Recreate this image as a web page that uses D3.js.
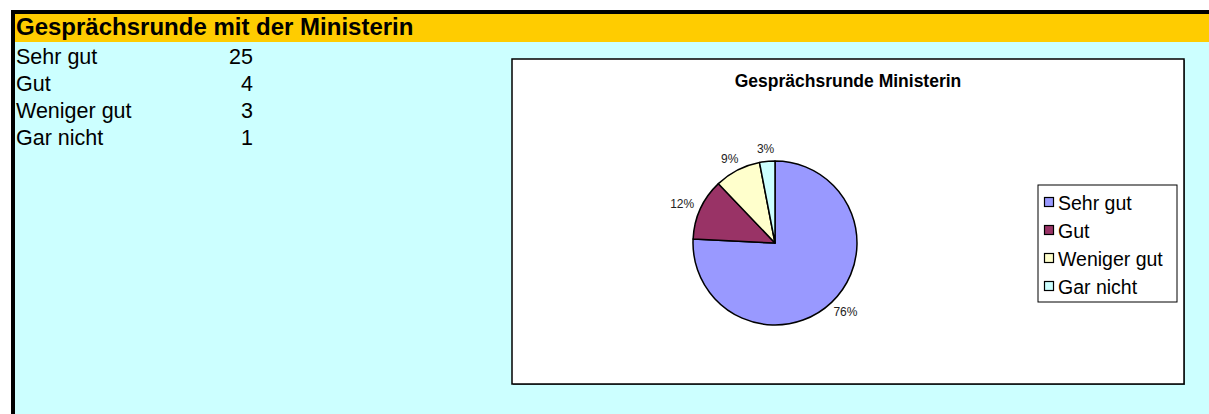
<!DOCTYPE html>
<html>
<head>
<meta charset="utf-8">
<script src="https://cdn.jsdelivr.net/npm/d3@7"></script>
<style>
  body { margin: 0; background: #fff; }
  svg { display: block; font-family: "Liberation Sans", Arial, sans-serif; }
</style>
</head>
<body>
<svg width="1209" height="414"></svg>
<script>
// data
const sheetTitle = "Gesprächsrunde mit der Ministerin";
const chartTitle = "Gesprächsrunde Ministerin";
const categories = ["Sehr gut", "Gut", "Weniger gut", "Gar nicht"];
const counts = [25, 4, 3, 1];
const colors = ["#9999FF", "#993366", "#FFFFCC", "#CCFFFF"];

let svg = d3.select("svg");
let width = parseInt(svg.attr("width"));
let height = parseInt(svg.attr("height"));

// thick black sheet border on left and top
svg.append("rect").attr("x", 11).attr("y", 10)
    .attr("width", width - 11).attr("height", height - 10).attr("fill", "#000");

// cyan sheet background
svg.append("rect").attr("x", 15).attr("y", 14)
    .attr("width", width - 15).attr("height", height - 14).attr("fill", "#CCFFFF");

// yellow header row
svg.append("rect").attr("x", 15).attr("y", 14)
    .attr("width", width - 15).attr("height", 28).attr("fill", "#FFCC00");
svg.append("text").attr("x", 16).attr("y", 35)
    .attr("font-size", 24).attr("font-weight", "bold")
    .text(sheetTitle);

// table rows under the header
let rowY = d3.scaleBand().domain(categories).range([42.5, 42.5 + 27 * categories.length]);
let rows = svg.append("g").selectAll("g")
    .data(categories)
    .enter().append("g")
    .attr("transform", d => "translate(0," + (rowY(d) + rowY.bandwidth() / 2) + ")");
rows.append("text").attr("x", 16).attr("dy", "0.35em").attr("font-size", 21.5)
    .text(d => d);
rows.append("text").attr("x", 253).attr("dy", "0.35em").attr("font-size", 21.5)
    .attr("text-anchor", "end")
    .text((d, i) => counts[i]);

// chart area box with a small shadow
let box = { x: 512, y: 59, w: 672, h: 325 };
svg.append("rect").attr("x", box.x + 1).attr("y", box.y + 1)
    .attr("width", box.w).attr("height", box.h).attr("fill", "#5a7a7a");
svg.append("rect").attr("x", box.x).attr("y", box.y)
    .attr("width", box.w).attr("height", box.h)
    .attr("fill", "#fff").attr("stroke", "#000").attr("stroke-width", 1.5);

svg.append("text").attr("x", 848).attr("y", 87)
    .attr("font-size", 17.5).attr("font-weight", "bold")
    .attr("text-anchor", "middle")
    .text(chartTitle);

// pie, clockwise from 12 o'clock, in data order
let total = d3.sum(counts);
let pie = d3.pie().sort(null).value(d => d.v);
let slices = pie(categories.map((c, i) => ({ c: c, v: counts[i], col: colors[i] })));
let radius = 82;
let arc = d3.arc().innerRadius(0).outerRadius(radius);
let labelArc = d3.arc().innerRadius(radius + 8).outerRadius(radius + 8);

let pieG = svg.append("g").attr("transform", "translate(775,243)");
pieG.selectAll("path")
    .data(slices)
    .enter().append("path")
    .attr("d", arc)
    .attr("fill", d => d.data.col)
    .attr("stroke", "#000")
    .attr("stroke-width", 1.5)
    .attr("stroke-linejoin", "round");

// labels sit just outside the rim, pushed out by half their box
let labels = pieG.selectAll("text")
    .data(slices)
    .enter().append("text")
    .attr("text-anchor", "middle")
    .attr("dy", "0.35em")
    .attr("font-size", 12)
    .attr("fill", "#222")
    .text(d => Math.round(d.data.v / total * 100) + "%");
labels.attr("transform", function (d) {
    let c = labelArc.centroid(d);
    let a = (d.startAngle + d.endAngle) / 2;
    let hw = this.getComputedTextLength() / 2;
    return "translate(" + (c[0] + Math.sin(a) * hw) + "," + (c[1] - Math.cos(a) * 5) + ")";
});

// legend
let leg = { x: 1038, y: 185, w: 139, h: 117 };
svg.append("rect").attr("x", leg.x).attr("y", leg.y)
    .attr("width", leg.w).attr("height", leg.h)
    .attr("fill", "#fff").attr("stroke", "#000").attr("stroke-width", 1);
let legY = d3.scaleBand().domain(categories).range([leg.y + 4, leg.y + leg.h - 1]);
let items = svg.append("g").selectAll("g")
    .data(categories)
    .enter().append("g")
    .attr("transform", d => "translate(" + leg.x + "," + (legY(d) + legY.bandwidth() / 2) + ")");
items.append("rect").attr("x", 6.5).attr("y", -5.5)
    .attr("width", 9).attr("height", 9)
    .attr("fill", (d, i) => colors[i])
    .attr("stroke", "#000").attr("stroke-width", 1.2);
items.append("text").attr("x", 20).attr("y", 0).attr("dy", "0.35em")
    .attr("font-size", 19.5)
    .text(d => d);
</script>
</body>
</html>
